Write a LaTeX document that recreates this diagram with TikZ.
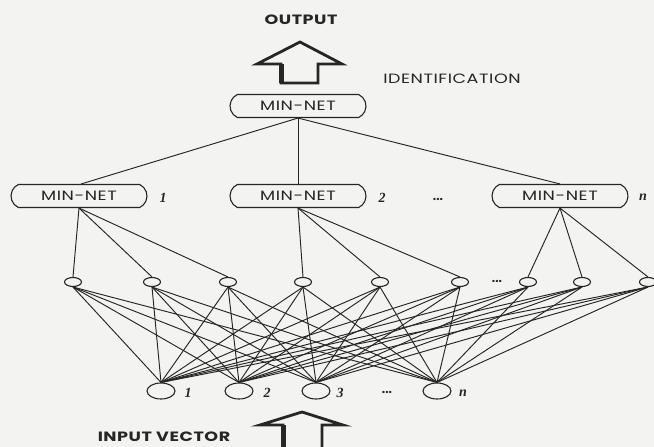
\documentclass[tikz,border=0pt]{standalone}
\usepackage{fontspec}
\setmainfont{Poppins}
\newfontfamily\labfont[FakeStretch=1.3,LetterSpace=4]{Poppins}
\usetikzlibrary{shapes.misc,shapes.geometric}
\definecolor{ink}{HTML}{262626}
\definecolor{paper}{HTML}{F3F3F1}
\begin{document}
\begin{tikzpicture}[x=1pt,y=-1pt,
  line width=0.8pt, draw=ink,
  minnet/.style={rounded rectangle, rounded rectangle arc length=130, draw=ink, line width=1.1pt, minimum width=136pt, minimum height=23pt, inner sep=0pt, font=\labfont\fontsize{13.5}{15}\selectfont, text=ink},
  hid/.style={ellipse, draw=ink, line width=1.1pt, minimum width=17pt, minimum height=9pt, inner sep=0pt},
  inp/.style={ellipse, draw=ink, line width=1.1pt, minimum width=28pt, minimum height=16pt, inner sep=0pt},
  idx/.style={font=\fontspec{Liberation Serif}\bfseries\itshape\fontsize{14}{15}\selectfont, text=ink, inner sep=0pt},
  dots/.style={font=\bfseries\fontsize{12}{13}\selectfont, text=ink, inner sep=0pt},
  captxt/.style={font=\labfont\bfseries\fontsize{13.5}{15}\selectfont, text=ink, inner sep=0pt},
  conn/.style={draw=ink, line width=0.95pt},
  blockarrow/.style={draw=ink, line width=2.8pt, line join=miter, fill=paper}
]
\fill[paper] (0,0) rectangle (654,447);
\useasboundingbox (0,0) rectangle (654,447);

% captions
\node[captxt] (out) at (301,20) {OUTPUT};
\node[captxt, font=\labfont\fontsize{13.5}{15}\selectfont] (ident) at (452,79) {IDENTIFICATION};
\node[captxt] (invec) at (164,437) {INPUT VECTOR};

% top arrow
\coordinate (ta1) at (281,83);
\coordinate (ta2) at (281,64);
\coordinate (ta3) at (257,64);
\coordinate (ta4) at (300,42);
\coordinate (ta5) at (342,64);
\coordinate (ta6) at (318,64);
\coordinate (ta7) at (318,83);
\draw[blockarrow] (ta1) -- (ta2) -- (ta3) -- (ta4) -- (ta5) -- (ta6) -- (ta7) -- cycle;
\draw[ink, line width=5pt] (ta1) -- (ta2);

% bottom arrow
\coordinate (ba1) at (283,450);
\coordinate (ba2) at (283,425);
\coordinate (ba3) at (260,425);
\coordinate (ba4) at (302,412);
\coordinate (ba5) at (343,425);
\coordinate (ba6) at (322,425);
\coordinate (ba7) at (322,450);
\draw[blockarrow] (ba1) -- (ba2) -- (ba3) -- (ba4) -- (ba5) -- (ba6) -- (ba7);
\draw[ink, line width=5pt] (ba1) -- (ba2);

% MIN-NET nodes
\node[minnet] (top) at (298,106) {MIN-NET};
\node[minnet] (m1) at (79,196) {MIN-NET};
\node[minnet] (m2) at (298,196) {MIN-NET};
\node[minnet] (m3) at (560,196) {MIN-NET};
\node[idx] (l1) at (163,198) {1};
\node[idx] (l2) at (382,198) {2};
\node[dots] (ld) at (438,199) {...};
\node[idx] (ln) at (643,197) {n};

\draw[conn] (top.south) -- (m1.80);
\draw[conn] (top.south) -- (m2.north);
\draw[conn] (top.south) -- (m3.north);

% hidden layer
\foreach \n/\x in {1/73,2/152,3/228,4/303,5/380,6/460,7/528,8/582,9/648}
  \node[hid] (h\n) at (\x,282) {};
\node[dots] (hd) at (497,281) {...};

\draw[conn] (m1.south) -- (h1.north);
\draw[conn] (m1.south) -- (h2.north);
\draw[conn] (m1.south) -- (h3.north);
\draw[conn] (m2.south) -- (h4.north);
\draw[conn] (m2.south) -- (h5.north);
\draw[conn] (m2.south) -- (h6.north);
\draw[conn] (m3.south) -- (h7.north);
\draw[conn] (m3.south) -- (h8.north);
\draw[conn] (m3.south) -- (h9.north);

% input layer
\foreach \n/\x in {1/161,2/239,3/316,4/437}
  \node[inp] (i\n) at (\x,391) {};
\node[idx] (il1) at (188,393) {1};
\node[idx] (il2) at (267,393) {2};
\node[idx] (il3) at (340,393) {3};
\node[dots] (ild) at (387,392) {...};
\node[idx] (iln) at (463,393) {n};

\foreach \h in {1,...,9}
  \foreach \i in {1,...,4}
    \draw[conn] (h\h.south) -- (i\i.north);
\end{tikzpicture}
\end{document}
